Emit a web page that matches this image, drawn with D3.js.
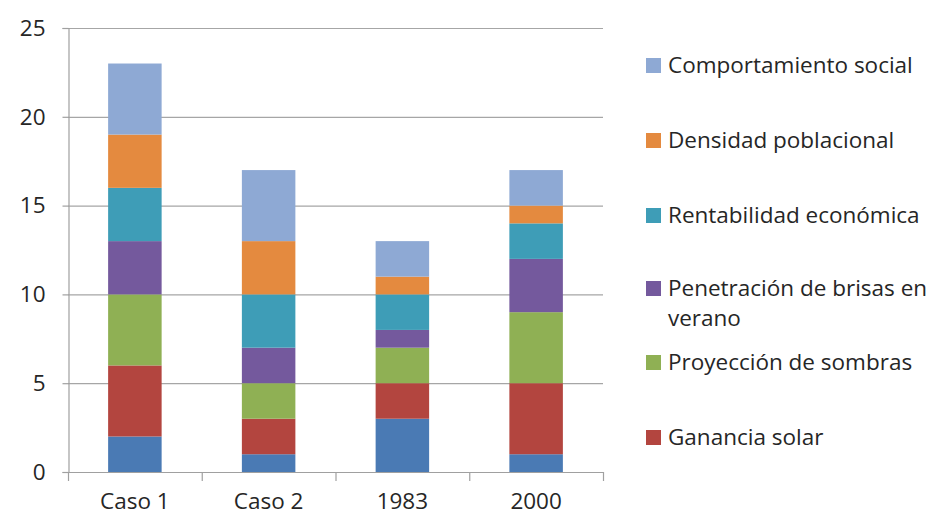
<!DOCTYPE html>
<html>
<head>
<meta charset="utf-8">
<script src="https://cdn.jsdelivr.net/npm/d3@7"></script>
<style>
  html, body { margin: 0; padding: 0; background: #fff; }
  svg { display: block; font-family: "Open Sans", "Liberation Sans", sans-serif; }
</style>
</head>
<body>
<svg id="chart" width="935" height="516"></svg>
<script>
// Categories along the x axis
const categories = ["Caso 1", "Caso 2", "1983", "2000"];

// Stacked series, bottom to top
const seriesKeys = ["Base", "Ganancia solar", "Proyección de sombras", "Penetración de brisas en verano",
                    "Rentabilidad económica", "Densidad poblacional", "Comportamiento social"];
const base            = [2, 1, 3, 1];
const gananciaSolar   = [4, 2, 2, 4];
const proyeccion      = [4, 2, 2, 4];
const penetracion     = [3, 2, 1, 3];
const rentabilidad    = [3, 3, 2, 2];
const densidad        = [3, 3, 1, 1];
const comportamiento  = [4, 4, 2, 2];
const seriesValues = [base, gananciaSolar, proyeccion, penetracion, rentabilidad, densidad, comportamiento];

const colors = ["#4a7ab4", "#b3453f", "#8fb054", "#74599d", "#3e9db7", "#e48a3f", "#8ea9d4"];

// Legend entries, top to bottom
const legendKeys = ["Comportamiento social", "Densidad poblacional", "Rentabilidad económica",
                    "Penetración de brisas en verano", "Proyección de sombras", "Ganancia solar"];

const yTicks = [0, 5, 10, 15, 20, 25];

const rows = categories.map((c, i) => {
  const r = { category: c };
  seriesKeys.forEach((k, j) => { r[k] = seriesValues[j][i]; });
  return r;
});

const svg = d3.select("#chart");
const plotLeft = 68, plotRight = 603, plotTop = 28, plotBottom = 472;
const fontSize = 22.5;
const textColor = "#262626";

const x = d3.scaleBand().domain(categories).range([plotLeft, plotRight]).paddingInner(0.6).paddingOuter(0.3);
const y = d3.scaleLinear().domain([0, 25]).range([plotBottom, plotTop]);
const color = d3.scaleOrdinal().domain(seriesKeys).range(colors);

// Horizontal gridlines
svg.append("g").selectAll("line").data(yTicks).join("line")
  .attr("x1", plotLeft).attr("x2", plotRight)
  .attr("y1", d => y(d) + 0.5).attr("y2", d => y(d) + 0.5)
  .attr("stroke", "#a6a6a6").attr("stroke-width", 1.2);

// Stacked bars
const stacked = d3.stack().keys(seriesKeys)(rows);
svg.append("g").selectAll("g").data(stacked).join("g")
  .attr("fill", d => color(d.key))
  .selectAll("rect").data(d => d).join("rect")
  .attr("x", d => x(d.data.category))
  .attr("width", x.bandwidth())
  .attr("y", d => y(d[1]))
  .attr("height", d => y(d[0]) - y(d[1]));

// Y axis
const yAxis = svg.append("g").attr("transform", `translate(${plotLeft + 0.5},0)`)
  .call(d3.axisLeft(y).tickValues(yTicks).tickSize(6).tickPadding(17));
yAxis.select(".domain").attr("stroke", "#a0a0a0").attr("stroke-width", 1.2);
yAxis.selectAll(".tick line").attr("stroke", "#a0a0a0").attr("stroke-width", 1.2);
yAxis.selectAll(".tick text").attr("font-size", fontSize).attr("fill", textColor)
  .attr("font-family", "Open Sans, sans-serif");

// X axis with ticks at category boundaries
const boundaries = d3.range(categories.length + 1)
  .map(i => plotLeft + i * (plotRight - plotLeft) / categories.length);
const xAxisG = svg.append("g");
xAxisG.append("line").attr("x1", plotLeft).attr("x2", plotRight)
  .attr("y1", plotBottom + 0.5).attr("y2", plotBottom + 0.5)
  .attr("stroke", "#a0a0a0").attr("stroke-width", 1.2);
xAxisG.selectAll("line.b").data(boundaries).join("line").attr("class", "b")
  .attr("x1", d => d + 0.5).attr("x2", d => d + 0.5)
  .attr("y1", plotBottom).attr("y2", plotBottom + 9)
  .attr("stroke", "#a0a0a0").attr("stroke-width", 1.2);
xAxisG.selectAll("text").data(categories).join("text")
  .attr("x", d => x(d) + x.bandwidth() / 2)
  .attr("y", 509)
  .attr("text-anchor", "middle")
  .attr("font-size", fontSize).attr("fill", textColor)
  .text(d => d);

// Legend
const legendBaselines = [73, 148, 223, 296, 370, 445];
const legend = svg.append("g");
legendKeys.forEach((k, i) => {
  const g = legend.append("g");
  g.append("rect").attr("x", 646).attr("y", legendBaselines[i] - 15)
    .attr("width", 15).attr("height", 15).attr("fill", color(k));
  const t = g.append("text").attr("x", 668).attr("y", legendBaselines[i])
    .attr("font-size", fontSize).attr("fill", textColor);
  if (k === "Penetración de brisas en verano") {
    t.append("tspan").attr("x", 668).text("Penetración de brisas en");
    t.append("tspan").attr("x", 668).attr("dy", 30).text("verano");
  } else {
    t.text(k);
  }
});
</script>
</body>
</html>
